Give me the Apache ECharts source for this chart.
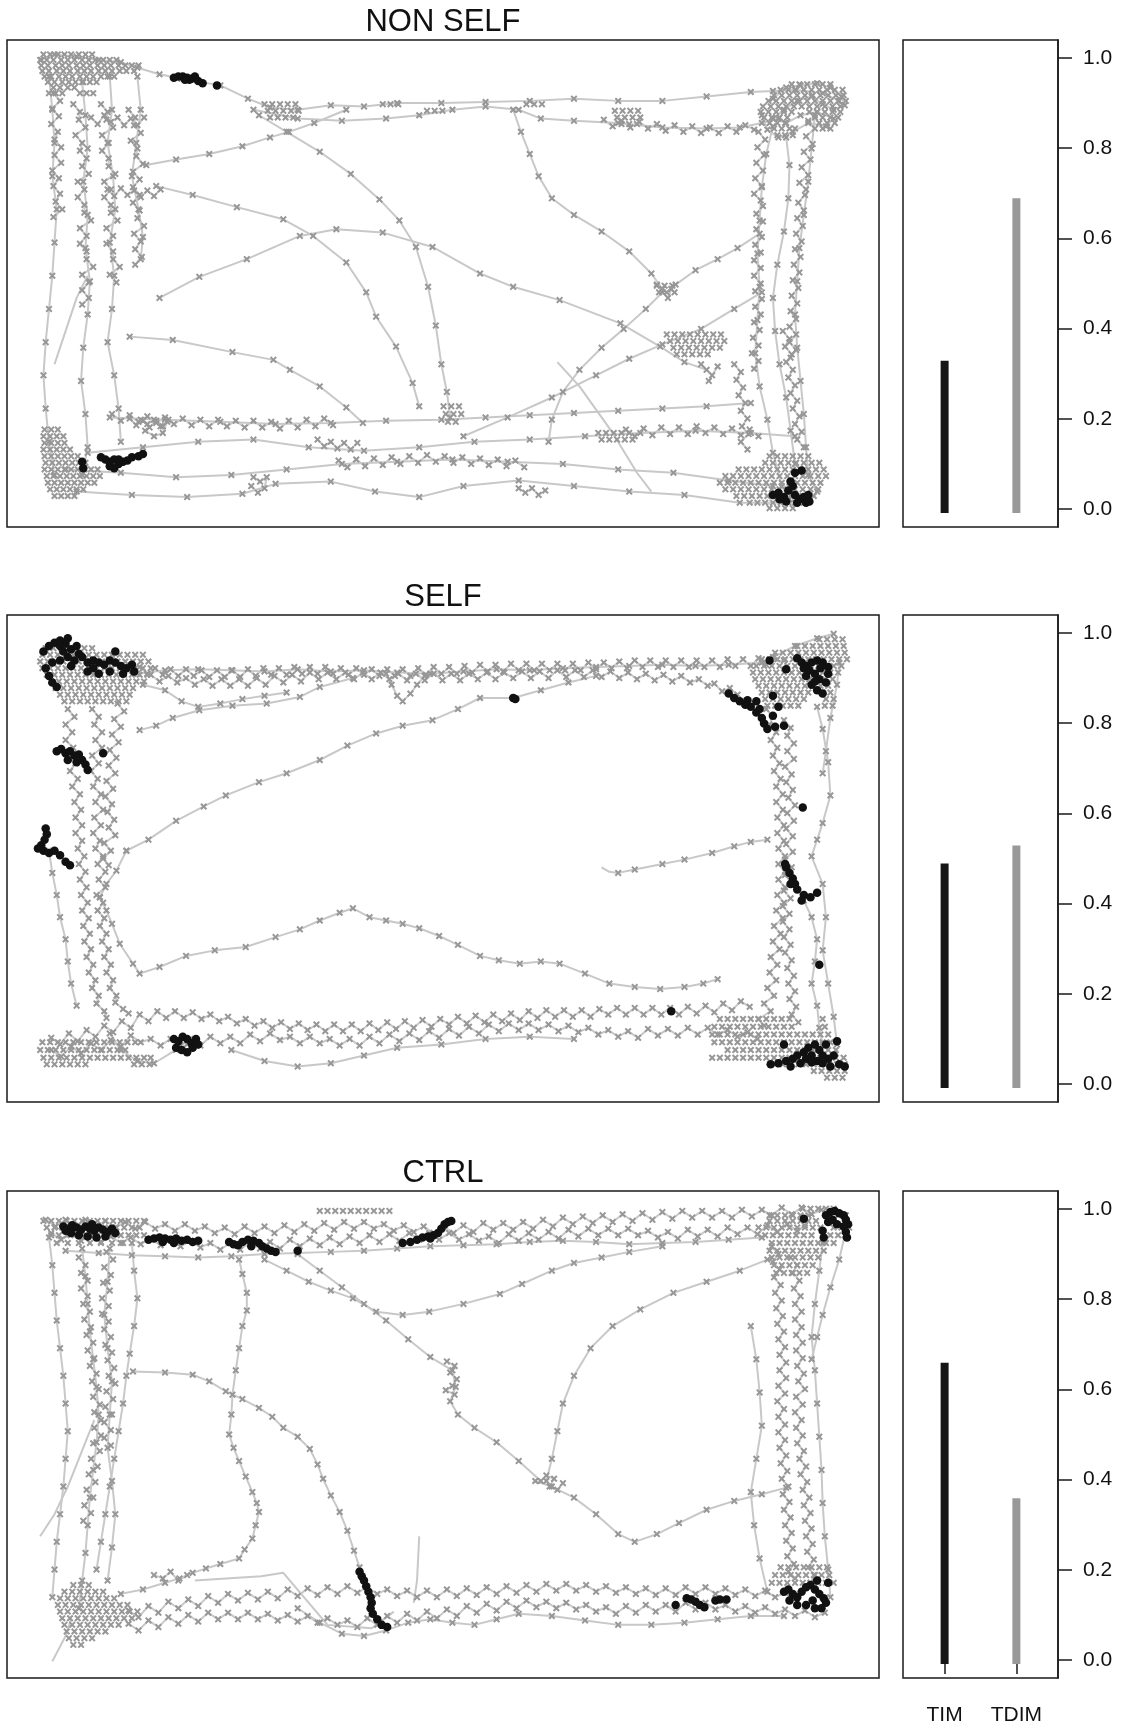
<!DOCTYPE html>
<html><head><meta charset="utf-8">
<script src="https://cdn.jsdelivr.net/npm/echarts@6/dist/echarts.min.js"></script>
<style>html,body{margin:0;padding:0;background:#fff}#c{width:1124px;height:1732px}</style>
</head><body><div id="c"></div>
<script>
// ---------- bar panel data ----------
const titles = ['NON SELF', 'SELF', 'CTRL'];
const barNames = ['TIM', 'TDIM'];
const timShare = [0.32, 0.48, 0.65];
const tdimShare = [0.68, 0.52, 0.35];
const shareTicks = [0, 0.2, 0.4, 0.6, 0.8, 1.0];

// ---------- trajectories (tracking units, origin top-left of arena, y downwards) ----------
// NON SELF
const ns_top1 = [[31,18],[43,13],[63,15],[83,18],[103,20],[118,25],[138,31],[158,35],[193,41],[218,53],[238,61],[263,63],[293,59],[323,60],[353,57],[393,57],[433,56],[473,55],[513,53],[553,55],[593,55],[633,51],[673,47],[693,46],[713,45],[738,48],[753,55]];
const ns_top2 = [[223,63],[263,71],[303,73],[343,71],[373,68],[403,63],[433,60],[463,63],[483,71],[513,73],[553,75],[593,79],[633,80],[663,79],[683,75],[698,71]];
const ns_trBlob = [[693,53],[705,43],[718,41],[733,39],[745,43],[755,51],[758,59],[748,63],[738,58],[728,51],[715,55],[703,63],[693,71],[705,75],[718,68],[733,65],[748,71],[741,78],[725,75],[711,83],[698,88],[688,81],[683,68]];
const ns_right1 = [[693,78],[687,103],[683,133],[681,163],[679,193],[681,223],[679,253],[677,283],[681,313],[688,343],[693,373],[701,403],[708,415]];
const ns_right2 = [[731,68],[728,98],[725,128],[721,158],[717,188],[715,218],[713,248],[715,278],[718,308],[721,338],[723,368],[725,393],[733,408]];
const ns_right3 = [[705,88],[708,113],[707,143],[703,173],[697,203],[693,233],[695,263],[699,293],[705,323],[709,353],[713,383]];
const ns_loop = [[458,63],[465,83],[473,103],[481,123],[493,143],[513,158],[538,173],[563,191],[583,211],[593,225],[588,221],[598,233],[601,225],[605,221],[623,208],[643,198],[661,188],[681,175]];
const ns_down = [[593,228],[578,243],[558,261],[538,278],[518,298],[503,318],[493,343],[490,363]];
const ns_diag1 = [[126,113],[153,108],[183,103],[213,96],[238,88],[255,83],[278,75],[307,63]];
const ns_diag2 = [[228,68],[253,83],[283,101],[311,121],[337,144],[355,163],[370,187],[381,223],[388,258],[393,293],[398,318],[401,341]];
const ns_diag3 = [[135,132],[168,140],[208,151],[250,162],[277,177],[307,201],[325,228],[334,250],[352,277],[367,310],[373,331]];
const ns_arch = [[138,233],[174,214],[217,198],[265,177],[298,171],[340,174],[385,187],[428,211],[458,223],[500,235],[555,256],[591,277],[613,291],[633,298],[628,293],[638,303],[643,295],[635,308]];
const ns_mid = [[111,268],[150,271],[204,282],[241,289],[256,298],[283,313],[307,332],[322,346]];
const ns_rise = [[413,358],[453,341],[493,323],[533,303],[563,288],[593,275],[628,261],[658,243],[683,228]];
const ns_bot1 = [[93,341],[143,343],[193,345],[243,347],[293,346],[343,344],[393,343],[433,341],[473,339],[513,337],[553,335],[593,333],[633,331],[673,328]];
const ns_bot2 = [[73,373],[123,368],[173,363],[223,361],[273,368],[323,371],[373,368],[423,363],[473,361],[523,358],[573,355],[623,353],[673,355],[713,358]];
const ns_bot3 = [[53,388],[103,391],[153,395],[203,393],[253,388],[303,383],[353,381],[403,379],[453,381],[503,383],[553,388],[603,391],[653,398],[693,403]];
const ns_bot4 = [[63,408],[113,411],[163,413],[213,410],[243,401],[293,399],[333,408],[373,413],[413,403],[463,398],[513,403],[563,408],[613,411],[663,418],[713,418]];
const ns_left1 = [[38,33],[41,63],[43,93],[41,123],[45,153],[43,183],[41,213],[38,243],[35,273],[33,303],[35,333],[38,363],[43,393]];
const ns_left2 = [[68,38],[71,68],[73,98],[69,128],[73,158],[71,188],[75,218],[73,248],[69,278],[67,308],[71,338],[73,368],[68,393]];
const ns_left3 = [[93,33],[95,63],[91,93],[96,123],[98,153],[93,183],[97,213],[95,243],[91,273],[97,303],[101,333],[103,363]];
const ns_left4 = [[118,33],[121,63],[117,93],[113,123],[119,153],[123,178],[121,198]];
const ns_fast = [[498,291],[518,313],[548,355],[570,391],[583,408]];
const ns_fast2 = [[43,293],[53,263],[63,233],[73,213]];
const ns_cBL2 = [[121,343],[127,347],[133,343],[139,349],[145,345],[141,355],[133,358],[125,353]];
const ns_cM3 = [[223,395],[229,399],[235,395],[233,405],[227,409],[221,403]];
const ns_cM4 = [[463,405],[469,409],[475,405],[481,411],[487,407]];
// slow (dwelling) stretches, sampled densely
const ns_w1 = [[42,48],[48,55],[41,62],[47,69],[40,76],[46,83],[43,90],[49,97],[43,104],[49,111],[41,118],[47,125],[42,132],[48,139],[44,146],[50,153],[42,160]];
const ns_w2 = [[60,58],[66,65],[65,72],[71,79],[62,86],[68,93],[66,100],[72,107],[68,114],[74,121],[64,128],[70,135],[64,142],[70,149],[70,156],[76,163],[66,170],[72,177],[66,184],[72,191],[72,198],[78,205],[68,212],[74,219],[68,226],[74,233],[68,239]];
const ns_w3 = [[85,58],[91,65],[90,72],[96,79],[86,86],[92,93],[86,100],[92,107],[92,114],[98,121],[88,128],[94,135],[88,142],[94,149],[94,156],[100,163],[90,170],[96,177],[90,184],[96,191],[96,198],[102,205],[93,212],[99,219]];
const ns_w4 = [[110,63],[116,70],[115,77],[121,84],[112,91],[118,98],[117,105],[123,112],[114,119],[120,126],[114,133],[120,140],[114,147],[120,154],[118,161],[124,168],[115,175],[121,182],[116,189],[122,196],[116,203]];
const ns_w5 = [[76,70],[82,76],[88,68],[94,74],[100,70],[106,77],[112,71],[118,77],[124,70]];
const ns_w6 = [[91,135],[97,141],[103,134],[109,140],[115,136],[121,142],[127,136],[133,141],[139,135]];
const ns_w7 = [[680,83],[686,90],[679,97],[685,104],[678,111],[684,118],[677,125],[683,132],[676,139],[682,145]];
const ns_w8 = [[725,73],[731,80],[723,87],[729,94],[721,101],[727,108],[719,115],[725,122],[717,129],[723,135]];
const ns_w9 = [[658,293],[664,300],[660,307],[666,314],[662,321],[668,328],[664,335],[670,342],[665,349],[671,356],[664,363],[670,370]];
const ns_w10 = [[702,263],[708,270],[704,277],[710,284],[705,291],[711,298],[707,305],[713,312],[709,319],[715,326],[711,333],[717,340],[713,347],[719,354],[715,361],[721,368]];
const ns_w11 = [[111,342],[117,348],[123,344],[129,350],[135,344],[141,349],[146,343]];
const ns_w12 = [[281,361],[287,367],[293,363],[299,369],[305,364],[311,370],[317,364]];
const ns_w13 = [[684,150],[678,157],[684,164],[678,171],[683,178],[677,185],[682,192],[676,199],[682,206],[676,213],[682,220],[677,227],[683,234],[677,241],[682,248],[676,255],[681,262],[675,269],[680,276],[674,283],[680,290],[676,297]];
const ns_w14 = [[722,140],[716,147],[721,154],[715,161],[720,168],[714,175],[719,182],[713,189],[718,196],[712,203],[717,210],[711,217],[716,224],[710,231],[715,238],[709,245],[714,252],[708,259],[714,266],[708,273],[714,280],[709,287]];
const ns_w15 = [[95,338],[103,344],[111,339],[119,345],[127,340],[135,346],[143,341],[151,347],[159,342],[167,348],[175,343],[183,349],[191,343],[199,349],[207,344],[215,350],[223,344],[231,350],[239,345],[247,351],[255,344],[263,350],[271,343],[279,349],[287,342],[295,348]];
const ns_w16 = [[300,380],[308,386],[316,379],[324,385],[332,378],[340,384],[348,377],[356,383],[364,376],[372,382],[380,375],[388,381],[396,376],[404,382],[412,377],[420,383],[428,378],[436,384],[444,379],[452,385],[460,380],[468,386]];
const ns_w17 = [[560,352],[568,358],[576,351],[584,357],[592,350],[600,356],[608,350],[616,356],[624,349],[632,355],[640,350],[648,356],[656,351],[664,357],[672,352],[680,358]];
const ns_w18 = [[540,72],[548,78],[556,73],[564,79],[572,74],[580,80],[588,76],[596,82],[604,77],[612,83],[620,78],[628,84],[636,79],[644,84],[652,78],[660,83],[668,77],[676,81]];
// resting spots: [y, x, x, ...]
const ns_blobs = [
 [13,33,39,46,52,58,65,71,77],[18,30,36,42,49,55,61,68,74,80,87,93,99],[23,31,37,44,50,56,63,69,75,82,88,94,101,107,113,119],
 [28,32,38,45,51,57,64,70,76,83,89,95,102,108,115],[33,34,40,47,53,59,66,72,78,85,91,97],[38,37,43,50,56,62,69,75,81],[43,42,48,55,61],[48,38,44,50,66,72,78],
 [352,34,40,46],[358,33,39,45,51],[364,34,40,46,52],[370,33,39,45,51,57],[376,34,40,46,52,58,64,690,697,704,711,718,725],
 [382,35,41,47,53,59,65,71,686,693,700,707,714,721,728,735],[388,34,40,46,52,58,64,70,76,82,662,669,676,683,690,697,704,711,718,725,732,739],
 [394,36,42,48,54,60,66,72,78,84,650,657,664,671,678,685,692,699,706,713,720,727,734,741],[400,37,43,49,55,61,67,73,79,645,652,659,666,673,680,687,694,701,708,715,722,729,736],
 [406,39,45,51,57,63,69,650,657,664,671,678,685,692,699,706,713,720,727,734],[412,43,49,55,61,660,667,674,681,688,695,702,709,716,723,730],
 [418,672,679,686,693,700,707,714,721],[423,690,697,704,711],
 [40,710,717,724,731,738,745],[45,700,707,714,721,728,735,742,749,756],[50,694,701,708,715,722,729,736,743,750,757],[55,689,696,703,710,717,724,731,738,745,752,759],
 [60,684,691,698,705,712,719,726,733,740,747,754],[65,682,689,696,703,710,726,733,740,747,754],[70,685,692,699,706,731,738,745,752],[75,690,697,704,735,742,749],
 [80,694,701,708,713,738,745],[86,697,704,711],
 [222,588,595,602],[228,590,597,604],[266,597,604,611,618,625,632,639,646],[272,600,607,614,621,628,635,642,649],[278,603,610,617,624,631,638,645],[284,606,613,620,627,634],
 [58,233,240,247,254,261,340,347,354,470,477,484],[64,236,243,250,257,264,380,387,394,550,557,564,571],[70,238,245,252,259,552,559,566,573],[76,556,563,570],
 [331,395,402,409],[338,397,404,411],[345,399,406],[355,535,542,549,556,563],[361,538,545,552,559,566]
];
const ns_black = [[151,34],[155,33],[159,33],[163,34],[167,35],[170,33],[173,37],[165,36],[161,36],[177,39],[190,41],
  [68,381],[69,387],[85,377],[89,379],[93,381],[97,379],[101,383],[105,381],[109,380],[97,387],[93,385],[113,377],[119,376],[123,374],[101,379],
  [693,411],[698,409],[703,413],[707,407],[711,403],[713,411],[717,415],[721,413],[723,418],[715,418],[705,417],[699,415],[709,399],[713,391],[719,389],[725,411],[726,417]];

// SELF
const s_top1 = [[118,53],[143,50],[173,49],[203,50],[233,51],[263,49],[293,51],[323,50],[353,52],[383,53],[413,51],[443,49],[473,50],[503,48],[533,47],[563,46],[593,45],[623,46],[653,45],[683,43],[703,41]];
const s_fan1 = [[120,104],[135,100],[150,93],[174,86],[204,82],[235,80],[265,74],[283,65],[313,57]];
const s_fan2 = [[123,63],[143,68],[158,78],[173,83],[193,80],[213,76],[233,73],[253,70]];
const s_bump = [[343,53],[348,63],[353,73],[358,78],[365,71],[371,63],[378,55]];
const s_long = [[108,213],[128,203],[153,186],[178,173],[198,163],[228,151],[253,143],[283,131],[308,118],[334,107],[358,100],[385,95],[408,85],[428,75],[458,75],[483,68],[508,61],[533,55]];
const s_link = [[108,213],[99,231],[90,243],[84,255]];
const s_low = [[84,255],[90,267],[95,279],[102,297],[114,315],[120,324],[138,318],[162,308],[188,303],[216,300],[243,291],[265,284],[283,276],[301,269],[313,265],[328,273],[343,276],[358,279],[373,283],[391,290],[408,298],[428,308],[445,312],[464,315],[483,313],[500,315],[523,324],[545,333],[568,336],[591,338],[613,336],[630,333],[643,329]];
const s_short = [[553,233],[568,230],[593,225],[613,221],[638,215],[658,209],[673,205],[688,203]];
const s_shortFast = [[538,228],[545,232],[553,233]];
const s_right4 = [[733,83],[738,103],[743,133],[745,163],[738,188],[733,203],[728,218],[738,243],[741,273],[738,303],[743,333],[748,363],[751,388]];
const s_right5 = [[713,243],[721,258],[728,273],[733,293],[731,313],[728,333],[733,353],[735,373],[738,388]];
const s_corner = [[693,38],[713,28],[733,21],[748,17]];
const s_rightTop = [[753,43],[751,63],[745,93],[741,123],[738,143]];
const s_bot3 = [[203,393],[233,403],[263,408],[293,405],[323,398],[353,391],[393,388],[433,383],[473,381],[513,383]];
const s_bot4 = [[93,378],[103,393],[118,403],[133,405],[153,393],[163,388]];
const s_left5 = [[38,213],[41,233],[45,253],[48,273],[53,293],[55,313],[58,333],[63,353]];
const s_w1 = [[120,47],[127,53],[134,48],[141,54],[148,49],[155,55],[162,49],[169,55],[176,50],[183,56],[190,50],[197,56],[204,50],[211,56],[218,49],[225,55],[232,48],[239,54],[246,48],[253,54],[260,47],[267,53],[274,47],[281,53],[288,47],[295,53],[302,48],[309,54],[316,48],[323,54],[330,49],[337,55],[344,49],[351,55],[358,49],[365,55],[372,48],[379,54],[386,47],[393,53],[400,47],[407,53],[414,46],[421,52],[428,45],[435,51],[442,45],[449,51],[456,44],[463,50],[470,44],[477,50],[484,44],[491,50],[498,44],[505,50],[512,44],[519,50],[526,43],[533,49],[540,43],[547,48],[554,42],[561,48],[568,41],[575,47],[582,41],[589,47],[596,41],[603,47],[610,41],[617,47],[624,41],[631,47],[638,41],[645,47],[652,40],[659,46],[666,40],[673,46],[680,39],[687,45]];
const s_w2 = [[130,54],[138,60],[146,55],[154,61],[162,57],[170,63],[178,58],[186,64],[194,58],[202,64],[210,58],[218,64],[226,57],[234,63],[242,55],[250,61],[258,54],[266,60],[274,52],[282,58],[290,52],[298,58],[306,52],[314,58],[322,52],[330,58],[338,52],[346,58],[354,53],[362,59],[370,53],[378,59],[386,53],[394,59],[402,53],[410,59],[418,53],[426,58],[434,52],[442,58],[450,52],[458,57],[466,51],[474,57],[482,51],[490,57],[498,50],[506,56],[514,50],[522,56],[530,50],[538,56],[546,51],[554,57],[562,52],[570,58],[578,53],[586,59],[594,54],[602,60],[610,55],[618,61],[626,58],[634,64],[640,62],[647,69],[654,66],[661,72]];
const s_w3 = [[55,85],[61,92],[53,99],[59,106],[53,113],[60,120],[55,127],[62,134],[57,141],[64,148],[59,155],[66,162],[61,169],[67,176],[62,183],[68,190],[62,197],[68,204],[64,211],[70,218],[65,225],[71,232],[66,239],[72,246],[67,253],[73,260],[68,267],[74,274],[69,281],[75,288],[70,295],[76,302],[72,309],[78,316],[74,323],[80,330],[77,337],[83,344],[81,351],[88,358],[90,364]];
const s_w4 = [[77,85],[83,92],[79,99],[86,106],[80,113],[86,120],[77,127],[83,134],[76,141],[82,148],[78,155],[85,162],[80,169],[87,176],[79,183],[85,190],[78,197],[84,204],[80,211],[87,218],[82,225],[89,232],[83,239],[89,246],[81,253],[87,260],[82,267],[88,274],[84,281],[90,288],[86,295],[92,302],[88,309],[94,316],[90,323],[96,330],[93,337],[99,344],[98,350],[105,356],[110,360]];
const s_w5 = [[100,80],[106,87],[97,94],[103,101],[95,108],[101,115],[93,122],[99,129],[92,136],[98,143],[90,150],[96,157],[89,164],[95,171],[91,178],[97,185],[92,192],[98,199],[88,206],[94,213],[87,220],[92,226]];
const s_w6 = [[40,382],[48,388],[56,378],[64,385],[72,375],[80,381],[88,371],[96,377],[104,367],[112,373],[120,361],[128,367],[136,358],[144,364],[152,358],[160,364],[168,359],[176,365],[184,361],[192,367],[200,363],[208,369],[216,365],[224,371],[232,367],[240,373],[248,368],[256,374],[264,369],[272,375],[280,370],[288,376],[296,370],[304,376],[312,370],[320,376],[328,369],[336,375],[344,368],[352,374],[360,367],[368,373],[376,366],[384,372],[392,365],[400,370],[408,363],[416,369],[424,362],[432,368],[440,361],[448,367],[456,360],[464,366],[472,358],[480,364],[488,357],[496,363],[504,357],[512,363],[520,357],[528,363],[536,356],[544,361],[552,355],[560,361],[568,355],[576,361],[584,355],[592,361],[600,355],[608,361],[616,354],[624,360],[632,353],[640,359],[648,351],[656,357],[664,349],[672,354]];
const s_w7 = [[40,393],[49,399],[58,390],[67,396],[76,387],[85,393],[94,384],[103,390],[112,380],[121,386],[130,383],[139,389],[148,383],[157,389],[166,383],[175,389],[184,381],[193,387],[202,381],[211,387],[220,379],[229,385],[238,378],[247,384],[256,381],[265,387],[274,381],[283,387],[292,383],[301,389],[310,383],[319,389],[328,381],[337,387],[346,379],[355,385],[364,378],[373,384],[382,376],[391,382],[400,374],[409,380],[418,372],[427,378],[436,370],[445,376],[454,369],[463,375],[472,369],[481,375],[490,370],[499,376],[508,371],[517,377],[526,373],[535,379],[544,375],[553,381],[562,376],[571,382],[580,374],[589,380],[598,374],[607,380],[616,373],[625,379],[634,373],[643,379],[652,375],[661,381],[670,377],[679,383]];
const s_w8 = [[687,85],[693,92],[690,99],[696,106],[691,113],[697,120],[693,127],[699,134],[694,141],[700,148],[696,155],[702,162],[696,169],[702,176],[697,183],[703,190],[697,197],[703,204],[698,211],[704,218],[698,225],[704,232],[698,239],[704,246],[697,253],[703,260],[696,267],[702,274],[694,281],[700,288],[693,295],[699,302],[691,309],[697,316],[690,323],[696,330],[688,337],[694,344],[685,351],[691,358],[680,365],[685,371]];
const s_w9 = [[703,95],[709,102],[706,109],[712,116],[706,123],[712,130],[704,137],[710,144],[705,151],[711,158],[707,165],[713,172],[706,179],[712,186],[705,193],[711,200],[705,207],[711,214],[704,221],[710,228],[704,235],[710,242],[703,249],[709,256],[702,263],[708,270],[702,277],[708,284],[703,291],[709,298],[704,305],[710,312],[706,319],[712,326],[707,333],[713,340],[708,347],[714,354],[710,361],[716,368]];
const s_blobs = [
 [22,735,742,749,756],[28,715,722,729,736,743,750,757],[30,35,42,49,56,63,70,77],[34,695,702,709,716,723,730,737,744,751,758],
 [36,32,39,46,53,60,67,74,81,88,95,102,109,116,123],[40,683,690,697,704,711,718,725,732,739,746,753,760],
 [42,30,37,44,51,58,65,72,79,86,93,100,107,114,121,128],[46,678,685,692,699,706,713,720,727,734,741,748,755],
 [48,32,39,46,53,60,67,74,81,88,95,102,109,116,123,130],[52,675,682,689,696,703,710,717,724,731,738,745,752],
 [54,36,43,50,57,64,71,78,85,92,99,106,113,120,127],[58,677,684,691,698,705,712,719,726,733,740,747],
 [60,40,47,54,61,68,75,82,89,96,103,110,117,124],[64,680,687,694,701,708,715,722,729,736,743],
 [66,44,51,58,65,72,79,86,93,100,107,114],[70,683,690,697,704,711,718,725,738,745],[72,48,55,62,69,76,83,90,97,104,111],
 [76,686,693,700,707,714,721,741,748],[78,52,59,66,73,80,87,94,101,108],[82,688,695,702,709,716,740,747],
 [365,645,652,659,666,673,680,687,694,701,708,738],[372,640,647,654,661,668,675,682,689,696,703,710,740],
 [379,638,645,652,659,666,673,680,687,694,701,708,715,722,729,736,743],[386,32,39,46,53,60,67,74,81,88,95,102,109,116,640,647,654,661,668,675,682,689,696,703,710,717,724,731,738,745],
 [393,30,37,44,51,58,65,72,79,86,93,100,107,652,659,666,673,680,687,694,701,708,715,722,729,736,743,750],
 [400,33,40,47,54,61,68,75,82,89,96,103,110,117,124,130,638,645,652,659,666,673,680,687,694,701,708,715,722,729,736,743,750,757],
 [406,36,43,50,57,64,71,115,122,129,695,702,709,716,723,730,737,744,751,758],[412,730,737,744,751,758],[418,742,749,756]
];
const s_black = [[33,33],[38,28],[43,25],[48,28],[53,26],[58,31],[63,28],[65,35],[61,41],[55,38],[48,41],[41,43],[35,48],[38,55],[41,61],[45,65],[51,33],[68,38],[73,43],[78,41],[83,43],[88,45],[93,41],[98,43],[103,46],[108,48],[113,45],[115,51],[105,53],[93,51],[83,53],[73,51],[48,23],[55,21],[98,33],[78,48],[58,46],
  [45,123],[49,121],[53,125],[57,123],[61,127],[65,126],[68,131],[71,135],[73,140],[63,133],[55,131],[87,125],
  [35,193],[36,198],[34,203],[31,208],[28,211],[33,213],[38,215],[43,213],[48,217],[53,223],[57,226],
  [151,383],[155,385],[159,381],[163,383],[167,387],[171,383],[153,391],[158,393],[163,395],[168,391],[173,388],
  [458,75],[460,76],
  [690,41],[705,49],[715,39],[719,43],[723,46],[728,43],[733,41],[738,43],[743,47],[731,53],[723,55],[735,58],[741,61],[728,63],[733,68],[738,71],[721,48],[743,53],[726,50],[736,48],[731,60],
  [653,71],[658,75],[663,78],[668,81],[673,83],[678,88],[683,93],[685,98],[688,103],[693,91],[698,83],[695,101],[703,100],[678,78],[693,73],[670,77],[681,85],
  [720,174],[735,316],[601,358],
  [705,228],[708,233],[711,238],[713,243],[709,243],[715,248],[721,253],[727,255],[733,251],[719,258],[704,225],
  [691,406],[698,405],[705,403],[711,401],[715,398],[721,395],[725,391],[728,398],[733,403],[738,405],[743,401],[748,398],[751,385],[741,388],[731,388],[723,401],[718,405],[753,406],[758,408],[735,393],[745,408],[709,408],[703,388],[728,404],[738,398]];

// CTRL
const c_top3 = [[53,54],[83,56],[113,58],[143,59],[173,60],[203,59],[233,57],[263,56],[293,55],[323,54],[353,52],[383,50],[413,49],[443,48],[473,46],[503,45],[533,46],[563,48],[593,47],[623,46],[653,44],[683,42]];
const c_arc = [[233,62],[253,72],[273,82],[293,90],[313,97],[334,109],[358,112],[382,109],[413,102],[446,93],[466,84],[493,72],[513,65],[538,60],[563,55],[593,50]];
const c_diag = [[263,57],[283,72],[303,87],[323,102],[343,117],[363,134],[383,150],[403,162],[406,177],[401,190],[408,202],[423,214],[443,227],[463,244],[483,262]];
const c_loopL = [[488,262],[493,242],[498,217],[503,192],[513,167],[528,142],[548,122],[573,107],[603,92],[633,82],[663,72],[688,62]];
const c_loopB = [[478,262],[493,267],[513,277],[533,292],[553,310],[568,317],[588,310],[608,300],[633,288],[658,280],[683,274],[705,268]];
const c_leftLoop = [[210,62],[213,75],[217,92],[217,108],[213,122],[210,142],[207,162],[204,184],[203,202],[201,220],[205,232],[210,244],[216,258],[222,272],[226,282],[228,290],[225,302],[222,314],[215,324],[210,332],[193,337],[180,341],[168,345],[156,350],[143,354],[123,360],[103,364]];
const c_mid = [[114,163],[143,164],[168,166],[183,172],[198,181],[213,188],[228,196],[240,204],[250,214],[263,222],[274,233],[281,247],[286,260],[293,275],[301,290],[308,307],[314,325],[319,340]];
const c_left1 = [[38,42],[41,67],[43,92],[45,117],[48,142],[51,167],[53,192],[55,217],[53,242],[51,267],[48,292],[45,317],[43,342],[41,367]];
const c_left2 = [[68,52],[71,77],[73,102],[75,127],[78,152],[81,177],[83,202],[81,227],[78,252],[75,277],[73,302],[71,327],[68,352],[65,377]];
const c_left3 = [[93,52],[91,82],[88,112],[91,142],[95,172],[93,202],[91,232],[95,262],[98,292],[95,322],[91,352]];
const c_left4 = [[113,47],[115,72],[118,97],[115,122],[111,147],[108,167],[105,192],[101,217],[97,242],[93,267],[89,292],[85,317],[81,342]];
const c_fast1 = [[30,312],[43,292],[55,267],[65,242],[73,222],[79,207]];
const c_fast2 = [[41,425],[53,402],[58,387]];
const c_fast3 = [[373,312],[371,352],[368,372]];
const c_fast4 = [[170,352],[230,348],[250,345],[290,392],[330,395],[350,380]];
const c_bot3 = [[263,377],[283,390],[303,400],[323,402],[343,397],[363,390],[383,387],[403,390],[423,392],[443,387],[463,382],[493,384],[523,388],[553,392],[583,392],[613,390],[643,387],[673,384],[703,384]];
const c_right3 = [[738,47],[735,72],[731,102],[728,132],[731,162],[733,192],[735,222],[737,252],[738,282],[740,312],[743,342],[745,367]];
const c_right4 = [[758,40],[753,62],[745,87],[738,112],[733,132],[728,152]];
const c_right5 = [[673,122],[678,152],[681,182],[683,212],[678,242],[673,272],[676,302],[681,332],[688,362]];
const c_cM1 = [[398,154],[405,158],[401,164],[407,170],[403,176],[397,180],[405,184]];
const c_cM2 = [[488,257],[495,260],[491,267],[498,270],[503,264]];
const c_cM3 = [[133,347],[141,350],[148,344],[155,352],[163,347]];
const c_w1 = [[35,26],[44,32],[53,26],[62,32],[71,26],[80,32],[89,27],[98,33],[107,28],[116,34],[125,28],[134,34],[143,30],[152,36],[161,30],[170,36],[179,32],[188,38],[197,33],[206,39],[215,32],[224,38],[233,32],[242,38],[251,31],[260,37],[269,30],[278,36],[287,29],[296,35],[305,28],[314,34],[323,28],[332,34],[341,30],[350,36],[359,31],[368,37],[377,32],[386,38],[395,32],[404,38],[413,31],[422,37],[431,29],[440,35],[449,29],[458,35],[467,28],[476,34],[485,26],[494,32],[503,24],[512,30],[521,23],[530,29],[539,22],[548,28],[557,21],[566,27],[575,20],[584,26],[593,19],[602,25],[611,18],[620,24],[629,18],[638,24],[647,18],[656,24],[665,17],[674,23],[683,17],[692,22],[701,15],[710,21],[719,15],[728,21],[737,17],[745,22]];
const c_w2 = [[40,38],[49,44],[58,39],[67,45],[76,40],[85,46],[94,41],[103,47],[112,42],[121,48],[130,43],[139,49],[148,44],[157,50],[166,45],[175,51],[184,47],[193,53],[202,47],[211,53],[220,46],[229,52],[238,46],[247,52],[256,44],[265,50],[274,43],[283,49],[292,42],[301,48],[310,41],[319,47],[328,40],[337,46],[346,39],[355,45],[364,38],[373,44],[382,38],[391,44],[400,38],[409,44],[418,39],[427,45],[436,41],[445,47],[454,39],[463,45],[472,38],[481,44],[490,37],[499,43],[508,35],[517,41],[526,34],[535,40],[544,34],[553,40],[562,34],[571,40],[580,36],[589,42],[598,37],[607,43],[616,35],[625,41],[634,35],[643,41],[652,33],[661,39],[670,33],[679,39],[688,31],[697,37],[706,30],[715,36],[722,31]];
const c_w3 = [[65,60],[71,67],[67,74],[73,81],[67,88],[73,95],[69,102],[75,109],[70,116],[76,123],[72,130],[78,137],[73,144],[79,151],[75,158],[81,165],[77,172],[83,179],[78,186],[84,193],[79,200],[85,207],[79,214],[85,221],[78,228],[84,235],[76,242],[82,249],[74,256],[80,263],[72,270],[78,277],[70,284],[76,291],[69,298]];
const c_w4 = [[90,55],[96,62],[88,69],[94,76],[87,83],[93,90],[86,97],[92,104],[86,111],[92,118],[88,125],[94,132],[89,139],[95,146],[91,153],[97,160],[92,167],[98,174],[90,181],[96,188],[89,195],[95,202],[88,209],[94,216],[88,223],[94,230]];
const c_w5 = [[110,379],[119,385],[128,375],[137,381],[146,371],[155,377],[164,369],[173,375],[182,366],[191,372],[200,364],[209,370],[218,363],[227,369],[236,362],[245,368],[254,360],[263,366],[272,359],[281,365],[290,358],[299,364],[308,357],[317,363],[326,358],[335,364],[344,360],[353,366],[362,361],[371,367],[380,361],[389,367],[398,360],[407,366],[416,359],[425,365],[434,358],[443,364],[452,357],[461,363],[470,356],[479,362],[488,355],[497,361],[506,355],[515,361],[524,356],[533,362],[542,357],[551,363],[560,358],[569,364],[578,359],[587,365],[596,359],[605,365],[614,358],[623,364],[632,358],[641,364],[650,359],[659,365],[668,360],[677,366],[686,361],[695,367],[704,363],[710,368]];
const c_w6 = [[110,391],[119,397],[128,388],[137,394],[146,385],[155,391],[164,383],[173,389],[182,381],[191,387],[200,381],[209,387],[218,381],[227,387],[236,382],[245,388],[254,383],[263,389],[272,384],[281,390],[290,386],[299,392],[308,388],[317,394],[326,386],[335,392],[344,384],[353,390],[362,382],[371,388],[380,380],[389,386],[398,378],[407,384],[416,375],[425,381],[434,373],[443,379],[452,371],[461,377],[470,370],[479,376],[488,371],[497,377],[506,372],[515,378],[524,374],[533,380],[542,376],[551,382],[560,375],[569,381],[578,374],[587,380],[596,374],[605,380],[614,372],[623,378],[632,372],[641,378],[650,374],[659,380],[668,375],[677,381],[686,376],[695,382],[704,378],[713,384],[722,379],[731,385],[740,381]];
const c_w7 = [[692,50],[698,57],[693,64],[699,71],[694,78],[700,85],[695,92],[701,99],[696,106],[702,113],[697,120],[703,127],[698,134],[704,141],[699,148],[705,155],[699,162],[705,169],[698,176],[704,183],[697,190],[703,197],[698,204],[704,211],[698,218],[704,225],[699,232],[705,239],[700,246],[706,253],[701,260],[707,267],[702,274],[708,281],[703,288],[709,295],[704,302],[710,309],[705,316],[711,323],[706,330],[712,337],[707,344],[713,350]];
const c_w8 = [[709,60],[715,67],[711,74],[717,81],[712,88],[718,95],[713,102],[719,109],[713,116],[719,123],[714,130],[720,137],[714,144],[720,151],[715,158],[721,165],[716,172],[722,179],[714,186],[720,193],[713,200],[719,207],[714,214],[720,221],[715,228],[721,235],[717,242],[723,249],[718,256],[724,263],[720,270],[726,277],[721,284],[727,291],[722,298],[728,305],[723,312],[729,319],[724,326],[730,333],[725,340],[731,347],[727,354]];
const c_blobs = [
 [16,720,727,734,741,748],[18,283,290,297,304,311,318,325,332,339,346],
 [22,690,697,704,711,718,725,745,752,759],[27,33,40,47,54,61,68,75,82,89,96,103,110,117,124,690,697,704,711,718,725,732],
 [33,36,43,50,57,64,71,78,85,92,99,106,113,120,680,687,694,701,708,715,722,729,736,748,755,762],
 [40,40,47,54,61,68,75,82,89,96,103,110,117,124,686,693,700,707,714,721,728,745,752,759],
 [47,45,55,65,75,85,95,105,692,699,706,713,720,727,734,741,748],[54,690,697,704,711,718,725,732,739],
 [60,692,699,706,713,720,727,734],[67,694,701,708,715,722,729],[74,696,703,710,717,724],
 [340,700,707,714,721,728,735,742],[347,695,702,709,716,723,730,737,744],[354,692,699,706,713,720,727,734,741,748],
 [356,60,67,74],[362,52,59,66,73,80,87],[368,48,55,62,69,76,83,90,97],[374,46,53,60,67,74,81,88,95,102,109],
 [380,48,55,62,69,76,83,90,97,104,111,118],[386,50,57,64,71,78,85,92,99,106,113],[392,52,59,66,73,80,87,94,101],
 [398,54,61,68,75,82,89],[404,56,63,70,77],[410,60,67]
];
const c_black = [[51,32],[55,34],[59,31],[63,33],[67,35],[71,32],[75,34],[79,36],[83,33],[87,35],[91,37],[95,34],[98,38],[58,38],[65,40],[73,41],[81,42],[89,41],[53,36],[77,30],
  [128,44],[133,43],[138,42],[143,43],[148,44],[153,43],[158,45],[163,44],[168,46],[173,45],[141,46],[151,47],
  [201,46],[205,48],[209,49],[213,46],[218,44],[223,45],[228,47],[231,50],[235,52],[239,54],[243,55],[221,50],[263,54],
  [358,47],[365,46],[371,44],[376,42],[381,41],[386,40],[390,38],[393,34],[396,30],[399,28],[402,27],[383,43],
  [741,22],[745,19],[749,18],[753,20],[757,22],[759,26],[761,30],[757,32],[751,30],[747,26],[743,28],[759,37],[760,42],[738,36],[739,42],[721,25],
  [319,344],[321,348],[323,352],[325,357],[327,362],[329,367],[330,372],[329,377],[331,382],[335,387],[339,392],[344,394],
  [605,374],[615,368],[619,369],[623,371],[627,374],[631,376],[641,370],[645,369],[651,369],
  [703,362],[707,360],[711,364],[715,367],[719,362],[723,358],[727,356],[731,360],[735,364],[739,368],[741,372],[737,377],[731,377],[723,374],[715,374],[708,370],[743,354],[733,352],[729,370]];

const panels = [
  { paths: [ns_top1, ns_top2, ns_trBlob, ns_right1, ns_right2, ns_right3, ns_loop, ns_down, ns_diag1, ns_diag2, ns_diag3, ns_arch, ns_mid, ns_rise, ns_bot1, ns_bot2, ns_bot3, ns_bot4, ns_left1, ns_left2, ns_left3, ns_left4, ns_cBL2, ns_cM3, ns_cM4],
    fast: [ns_fast, ns_fast2], slow: [ns_w1, ns_w2, ns_w3, ns_w4, ns_w5, ns_w6, ns_w7, ns_w8, ns_w9, ns_w10, ns_w11, ns_w12, ns_w13, ns_w14, ns_w15, ns_w16, ns_w17, ns_w18], blobs: ns_blobs, black: ns_black },
  { paths: [s_top1, s_fan1, s_fan2, s_bump, s_long, s_link, s_low, s_short, s_right4, s_right5, s_corner, s_rightTop, s_bot3, s_bot4, s_left5],
    fast: [s_shortFast], slow: [s_w1, s_w2, s_w3, s_w4, s_w5, s_w6, s_w7, s_w8, s_w9], blobs: s_blobs, black: s_black },
  { paths: [c_top3, c_arc, c_diag, c_loopL, c_loopB, c_leftLoop, c_mid, c_left1, c_left2, c_left3, c_left4, c_bot3, c_right3, c_right4, c_right5, c_cM1, c_cM2, c_cM3],
    fast: [c_fast1, c_fast2, c_fast3, c_fast4], slow: [c_w1, c_w2, c_w3, c_w4, c_w5, c_w6, c_w7, c_w8], blobs: c_blobs, black: c_black }
];

// ---------- layout ----------
const tops = [40, 615, 1191];
const boxH = 487;
const crossPath = 'path://M0,2L2,0L5,3L8,0L10,2L7,5L10,8L8,10L5,7L2,10L0,8L3,5Z';
const FONT = '"Liberation Sans", Arial, Helvetica, sans-serif';
const expandRows = rows => [].concat(...rows.map(r => r.slice(1).map(x => [x, r[0]])));

const grid = [], xAxis = [], yAxis = [], series = [], graphic = [];
panels.forEach((p, i) => {
  grid.push({ left: 7, top: tops[i], width: 872, height: boxH, show: true, borderColor: '#1a1a1a', borderWidth: 1.5, backgroundColor: 'transparent' });
  grid.push({ left: 903, top: tops[i], width: 155, height: boxH, show: true, borderColor: '#1a1a1a', borderWidth: 1.5, backgroundColor: 'transparent' });
  const gm = 2 * i, gb = 2 * i + 1;
  xAxis.push({ gridIndex: gm, type: 'value', min: 0, max: 789, show: false });
  yAxis.push({ gridIndex: gm, type: 'value', min: 0, max: 440, inverse: true, show: false });
  const last = i === panels.length - 1;
  xAxis.push({ gridIndex: gb, type: 'value', min: 0.42, max: 2.58, position: 'bottom',
    axisLine: { show: false }, splitLine: { show: false },
    axisTick: { show: last, inside: false, length: 14, lineStyle: { color: '#1a1a1a', width: 1.5 }, customValues: [1, 2] },
    axisLabel: { show: last, customValues: [1, 2], margin: 27, fontSize: 21, fontFamily: FONT, color: '#111',
      formatter: v => barNames[Math.round(v) - 1] } });
  yAxis.push({ gridIndex: gb, type: 'value', min: -0.04, max: 1.04, position: 'right',
    axisLine: { show: true, lineStyle: { color: '#1a1a1a', width: 1.5 } }, splitLine: { show: false },
    axisTick: { show: true, inside: false, length: 14, lineStyle: { color: '#1a1a1a', width: 1.5 }, customValues: shareTicks },
    axisLabel: { show: true, customValues: shareTicks, margin: 25, fontSize: 21, fontFamily: FONT, color: '#111',
      formatter: v => v.toFixed(1) } });

  p.paths.concat(p.slow, p.fast).forEach(path => {
    series.push({ type: 'line', xAxisIndex: gm, yAxisIndex: gm, data: path, symbol: 'none', silent: true,
      lineStyle: { color: '#c8c8c8', width: 2 }, z: 1, animation: false });
  });
  const pts = [].concat(...p.paths, ...p.slow).concat(expandRows(p.blobs));
  series.push({ type: 'scatter', xAxisIndex: gm, yAxisIndex: gm, data: pts, symbol: crossPath, symbolSize: 7, silent: true,
    itemStyle: { color: '#979797', opacity: 1 }, z: 3, animation: false });
  series.push({ type: 'scatter', xAxisIndex: gm, yAxisIndex: gm, data: p.black, symbol: 'circle', symbolSize: 8.5, silent: true,
    itemStyle: { color: '#111111', opacity: 1 }, z: 4, animation: false });

  series.push({ type: 'line', xAxisIndex: gb, yAxisIndex: gb, data: [[1, 0], [1, timShare[i]]], symbol: 'none', silent: true,
    lineStyle: { color: '#151515', width: 8, cap: 'square' }, z: 2, animation: false });
  series.push({ type: 'line', xAxisIndex: gb, yAxisIndex: gb, data: [[2, 0], [2, tdimShare[i]]], symbol: 'none', silent: true,
    lineStyle: { color: '#999999', width: 8, cap: 'square' }, z: 2, animation: false });

  graphic.push({ type: 'text', x: 443, y: tops[i] - 18, style: { text: titles[i], font: '31px ' + FONT, fill: '#111', textAlign: 'center', textVerticalAlign: 'middle' } });
});

const chart = echarts.init(document.getElementById('c'), null, { renderer: 'canvas' });
chart.setOption({ animation: false, backgroundColor: '#fff', grid, xAxis, yAxis, series, graphic });
</script>
</body></html>
